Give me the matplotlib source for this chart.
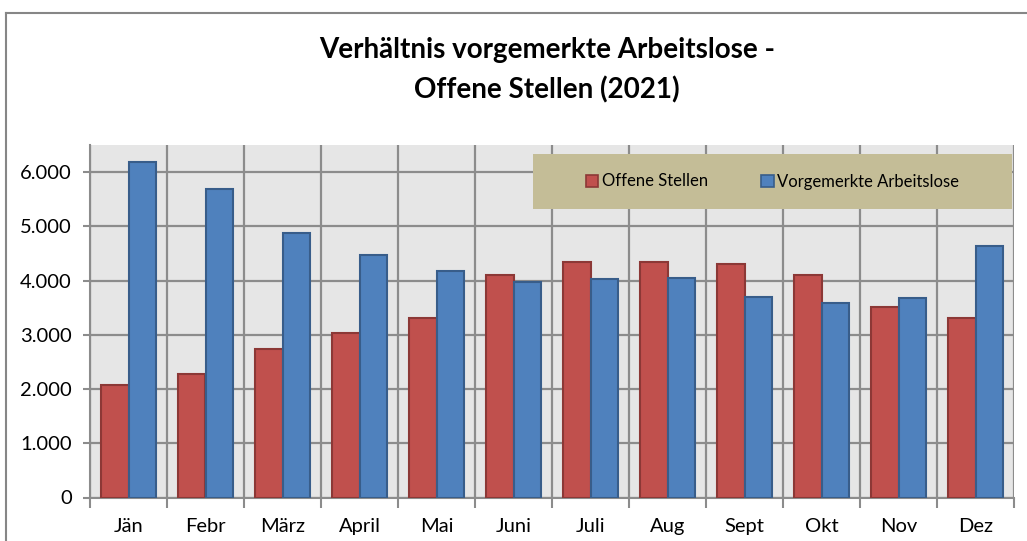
import numpy as np
import matplotlib
matplotlib.use("Agg")
import matplotlib.pyplot as plt
from matplotlib.patches import Rectangle, Patch
from matplotlib.lines import Line2D

# monthly values 2021
months = ["Jän", "Febr", "März", "April", "Mai", "Juni",
          "Juli", "Aug", "Sept", "Okt", "Nov", "Dez"]
offene_stellen = [2070, 2270, 2730, 3030, 3310, 4110,
                  4345, 4345, 4300, 4110, 3510, 3310]
arbeitslose = [6180, 5690, 4870, 4470, 4180, 3980,
               4030, 4040, 3690, 3590, 3670, 4630]
yticks = [0, 1000, 2000, 3000, 4000, 5000, 6000]
ytick_labels = ["0", "1.000", "2.000", "3.000", "4.000", "5.000", "6.000"]

plt.rcParams["font.family"] = ["Lato", "DejaVu Sans"]

W, H = 1027, 541
fig = plt.figure(figsize=(W / 100, H / 100), dpi=100)
fig.patch.set_facecolor("white")

# chart frame: only top and left edges fall inside the image
fy = 1 - 13 / H
fx = 6 / W
fig.add_artist(Line2D([fx, 1.0], [fy, fy], transform=fig.transFigure,
                      color="#868686", lw=1.5))
fig.add_artist(Line2D([fx, fx], [0.0, fy], transform=fig.transFigure,
                      color="#868686", lw=1.5))

ax = fig.add_axes([90 / W, 43.5 / H, (1014 - 90) / W, (497.5 - 145) / H])
ax.set_facecolor("#E6E6E6")

x = np.arange(len(months)) + 0.5
bw = 0.357
ax.bar(x - bw / 2, offene_stellen, bw, color="#C0504D",
       edgecolor="#8C3836", lw=1.5, zorder=3)
ax.bar(x + bw / 2, arbeitslose, bw, color="#4F81BD",
       edgecolor="#385D8A", lw=1.5, zorder=3)

ax.set_xlim(0, len(months))
ax.set_ylim(0, 6500)
ax.set_xticks(np.arange(len(months) + 1))
ax.set_xticklabels([])
ax.set_xticks(x, months, minor=True)
ax.tick_params(axis="x", which="major", length=7, color="#8c8c8c", width=1.5)
ax.tick_params(axis="x", which="minor", length=0, pad=15, labelsize=14.5)
ax.set_yticks(yticks, ytick_labels)
ax.tick_params(axis="y", length=5, color="#8c8c8c", width=1.5, pad=8,
               labelsize=14.5)
ax.grid(True, which="major", color="#8c8c8c", lw=1.6, zorder=0)
ax.set_axisbelow(True)
for s in ["top", "right"]:
    ax.spines[s].set_visible(False)
for s in ["left", "bottom"]:
    ax.spines[s].set_color("#8c8c8c")
    ax.spines[s].set_linewidth(1.5)

# legend panel
lx0, lx1, ly0, ly1 = 533, 1012, 154, 209
fig.add_artist(Rectangle((lx0 / W, 1 - ly1 / H), (lx1 - lx0) / W,
                         (ly1 - ly0) / H, transform=fig.transFigure,
                         facecolor="#C4BD97", edgecolor="none", zorder=5))
handles = [Patch(facecolor="#C0504D", edgecolor="#8C3836", lw=1.2),
           Patch(facecolor="#4F81BD", edgecolor="#385D8A", lw=1.2)]
leg = fig.legend(handles, ["Offene Stellen", "Vorgemerkte Arbeitslose"],
                 ncol=2, frameon=False, loc="center",
                 bbox_to_anchor=((lx0 + lx1) / 2 / W, 1 - (ly0 + ly1) / 2 / H),
                 fontsize=12, handlelength=0.75, handleheight=0.75,
                 handletextpad=0.2, columnspacing=3.2)
leg.set_zorder(6)

fig.text(547 / W, 1 - 50 / H, "Verhältnis vorgemerkte Arbeitslose -",
         ha="center", va="center", fontsize=20, fontweight="bold")
fig.text(547 / W, 1 - 90 / H, "Offene Stellen (2021)",
         ha="center", va="center", fontsize=20, fontweight="bold")

fig.savefig("out.png", dpi=100)
